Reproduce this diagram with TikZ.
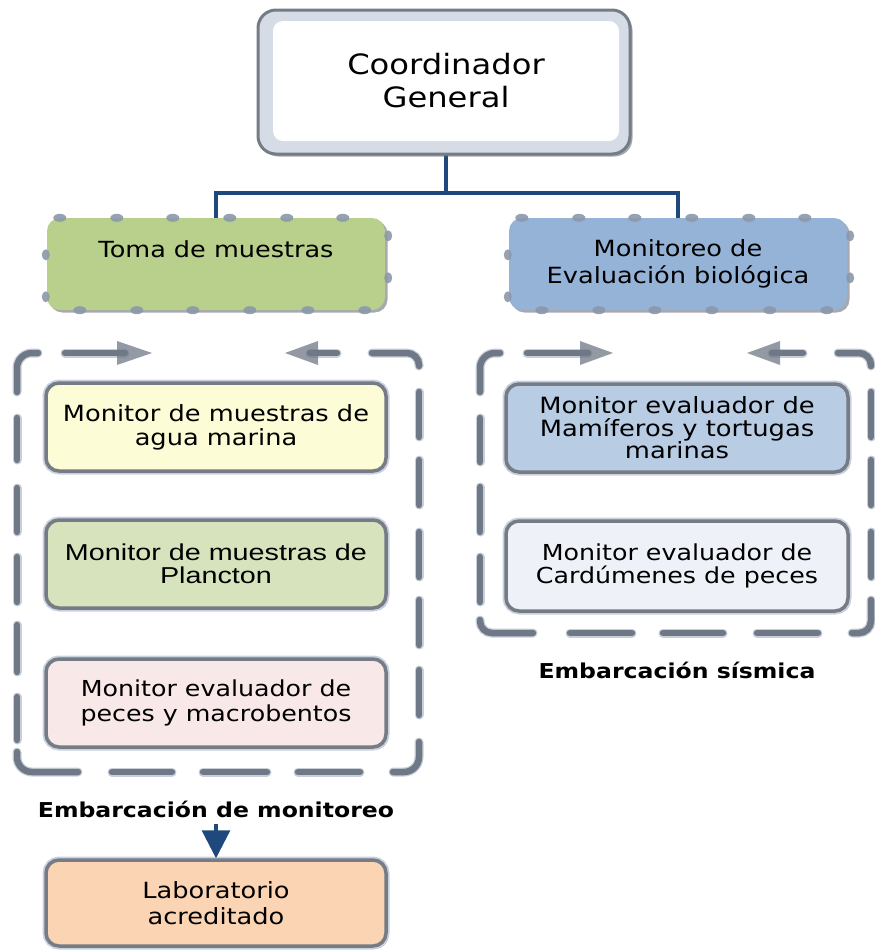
\documentclass[tikz,border=0pt]{standalone}
\usepackage{fontspec}
\setmainfont{DejaVu Sans}[FakeStretch=1.15]
\newfontfamily\plainsans{Liberation Sans}[FakeStretch=1.25]
\usetikzlibrary{shadows,arrows.meta}

\definecolor{linkblue}{HTML}{1F497D}
\definecolor{tomagreen}{HTML}{B9CF8C}
\definecolor{evalblue}{HTML}{95B3D7}
\definecolor{aguayellow}{HTML}{FCFCD6}
\definecolor{planctongreen}{HTML}{D7E3BC}
\definecolor{pecespink}{HTML}{F8E8E8}
\definecolor{labpeach}{HTML}{FBD4B4}
\definecolor{mamblue}{HTML}{B8CCE4}
\definecolor{cardwhite}{HTML}{EEF2F8}
\definecolor{bandgray}{HTML}{D5DCE6}
\definecolor{rimgray}{HTML}{767C86}
\definecolor{halogray}{HTML}{C9D1DC}
\definecolor{shadowgray}{HTML}{5D636D}
\definecolor{dotgray}{HTML}{8B98AA}
\definecolor{framegray}{HTML}{6F7886}
\definecolor{framehalo}{HTML}{C8CFD9}

\pgfdeclarelayer{bg}
\pgfsetlayers{bg,main}

\begin{document}
\begin{tikzpicture}[x=1pt,y=-1pt,
  boxshadow/.style={drop shadow={shadow xshift=2.5pt,shadow yshift=-2.5pt,fill=shadowgray,opacity=.55}},
  headbox/.style={boxshadow, rounded corners=13pt, inner sep=0pt, align=center,
    minimum width=338pt, minimum height=92pt},
  monbox/.style={boxshadow, preaction={draw=halogray, line width=7pt},
    rounded corners=13pt, draw=rimgray, line width=3.5pt, inner sep=0pt, align=center,
    minimum width=340pt, minimum height=88pt},
  conn/.style={draw=linkblue, line width=3.2pt},
  dot/.style={fill=dotgray, opacity=.9},
  frameseg/.style={draw=framegray, line width=6.5pt, line cap=round,
    preaction={draw=framehalo, line width=9pt, line cap=round}},
  arrowhead/.style={fill=framegray, opacity=.75},
  shiplabel/.style={inner sep=0pt, font=\bfseries\fontsize{20.5}{22}\selectfont}
]
\useasboundingbox (0,0) rectangle (875,951);

% ---- coordinator ----
\node[boxshadow, fill=bandgray, draw=rimgray, line width=3pt, rounded corners=18pt,
      minimum width=372pt, minimum height=144pt] (coordframe) at (444,82) {};
\node[fill=white, rounded corners=10pt, minimum width=346pt, minimum height=120pt,
      inner sep=0pt, align=center, font=\fontsize{28}{33}\selectfont] (coord) at (446,81)
      {Coordinador\\General};

% ---- second level ----
\node[headbox, fill=tomagreen,
      label={[font=\fontsize{22.2}{26}\selectfont, yshift=15pt]center:Toma de muestras}]
      (toma) at (216,264) {};
\node[headbox, fill=evalblue, font=\fontsize{22.3}{26.5}\selectfont]
      (eval) at (678,264) {Monitoreo de\\Evaluación biológica};

% dots along the two heading boxes
\foreach \b in {toma,eval}{
  \foreach \dx in {13,70,126,183,240,296}
    \fill[dot] ([xshift=\dx pt]\b.north west) ellipse (6.5pt and 4pt);
  \foreach \dx in {33,90,146,203,261,318}
    \fill[dot] ([xshift=\dx pt]\b.south west) ellipse (6.5pt and 4pt);
  \foreach \dy in {37,79}
    \fill[dot] ([xshift=-1pt,yshift=-\dy pt]\b.north west) ellipse (4pt and 5.5pt);
  \foreach \dy in {18,60}
    \fill[dot] ([xshift=3pt,yshift=-\dy pt]\b.north east) ellipse (4pt and 5.5pt);
}

% ---- connectors from the coordinator ----
\coordinate (bus) at (446,193);
\begin{pgfonlayer}{bg}
  \draw[conn] (coord.south) -- (bus) -| (toma.north);
  \draw[conn] (bus) -| (eval.north);
\end{pgfonlayer}

% ---- left group ----
\node[monbox, fill=aguayellow, font=\fontsize{22.3}{24}\selectfont] (agua) at (216,427)
      {Monitor de muestras de\\agua marina};
\node[monbox, fill=planctongreen, font=\plainsans\fontsize{23}{22.5}\selectfont] (plancton) at (216,564)
      {Monitor de muestras de\\Plancton};
\node[monbox, fill=pecespink, font=\fontsize{22}{25}\selectfont] (peces) at (216,703)
      {Monitor evaluador de\\peces y macrobentos};

% ---- right group ----
\node[monbox, fill=mamblue, font=\fontsize{22.4}{22.5}\selectfont, minimum width=342pt] (mam) at (677,428)
      {Monitor evaluador de\\Mamíferos y tortugas\\marinas};
\node[monbox, fill=cardwhite, font=\fontsize{22}{22.5}\selectfont, minimum width=342pt, minimum height=90pt] (card) at (677,566)
      {Monitor evaluador de\\Cardúmenes de peces};

% ---- laboratory ----
\node[monbox, fill=labpeach, font=\fontsize{22.3}{25.5}\selectfont, minimum height=86pt] (lab) at (216,903)
      {Laboratorio\\acreditado};

% ---- vessel labels ----
\node[shiplabel] (shipL) at (216,809) {Embarcación de monitoreo};
\node[shiplabel] (shipR) at (677,670) {Embarcación sísmica};

\draw[conn, -{Triangle[width=28pt,length=28pt]}] ([yshift=-6pt]shipL.south) -- (lab.north);

% ---- dashed frame around the monitoring vessel ----
\draw[frameseg, rounded corners=15pt] (17,392) -- (17,353) -- (38,353);
\foreach \a/\b in {418/460,488/532,557/602,625/672,697/740}
  \draw[frameseg] (17,\a) -- (17,\b);
\draw[frameseg, rounded corners=15pt] (17,752) -- (17,772) -- (78,772);
\foreach \a/\b in {112/172,203/267,298/360}
  \draw[frameseg] (\a,772) -- (\b,772);
\draw[frameseg, rounded corners=15pt] (393,772) -- (419,772) -- (419,742);
\foreach \a/\b in {392/437,460/505,532/577,600/645,670/715}
  \draw[frameseg] (419,\a) -- (419,\b);
\draw[frameseg, rounded corners=12pt] (372,353) -- (419,353) -- (419,366);
\draw[frameseg] (65,353) -- (125,353);
\fill[arrowhead] (117,341) -- (152,353) -- (117,365) -- cycle;
\draw[frameseg] (310,353) -- (337,353);
\fill[arrowhead] (318,341) -- (285,353) -- (318,365) -- cycle;

% ---- dashed frame around the seismic vessel ----
\draw[frameseg, rounded corners=15pt] (480,392) -- (480,353) -- (500,353);
\foreach \a/\b in {418/462,487/532,557/602}
  \draw[frameseg] (480,\a) -- (480,\b);
\draw[frameseg, rounded corners=12pt] (480,620) -- (480,633) -- (533,633);
\foreach \a/\b in {570/632,663/723,757/818}
  \draw[frameseg] (\a,633) -- (\b,633);
\draw[frameseg, rounded corners=12pt] (852,633) -- (871,633) -- (871,600);
\foreach \a/\b in {392/437,460/505,532/577}
  \draw[frameseg] (871,\a) -- (871,\b);
\draw[frameseg, rounded corners=12pt] (838,353) -- (871,353) -- (871,366);
\draw[frameseg] (527,353) -- (588,353);
\fill[arrowhead] (580,341) -- (613,353) -- (580,365) -- cycle;
\draw[frameseg] (772,353) -- (803,353);
\fill[arrowhead] (780,341) -- (747,353) -- (780,365) -- cycle;

\end{tikzpicture}
\end{document}
